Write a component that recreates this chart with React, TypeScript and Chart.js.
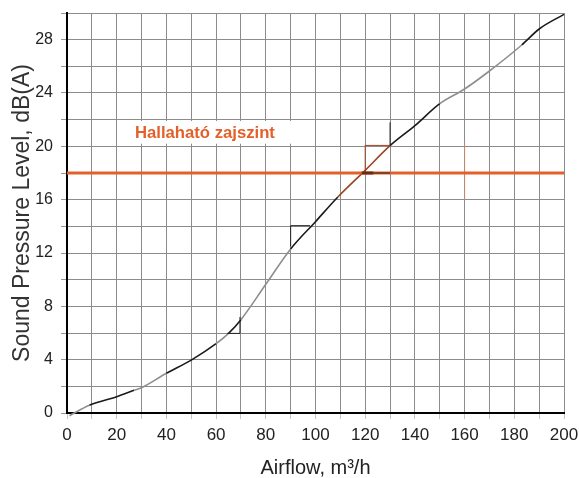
import { useEffect, useRef } from "react";
import { Chart, registerables } from "chart.js";

Chart.register(...registerables);

// ---- data ----
const airflow = [1, 9, 20, 27, 30, 40, 50, 60, 65, 70, 80, 90, 100, 109, 120, 130, 140, 150, 160, 170, 183, 190, 200];
const soundLevel = [-0.2, 0.58, 1.22, 1.7, 1.9, 2.98, 3.97, 5.2, 5.97, 7.0, 9.65, 12.3, 14.35, 16.2, 18.2, 20.05, 21.55, 23.2, 24.3, 25.65, 27.6, 28.8, 29.9];

const thresholdLevel = 18;
const thresholdLabel = "Hallaható zajszint";
const thresholdLabelPos = { x: 55.5, y: 21.0 };
const labelBox = { x0: 20.3, x1: 99.8, y0: 20.2, y1: 21.9 };

const xTickLabels = [0, 20, 40, 60, 80, 100, 120, 140, 160, 180, 200];
const yTickLabels = [0, 4, 8, 12, 16, 20, 24, 28];

// small marks visible on the scanned curve
const mark70 = [{ x: 64.4, y: 5.97 }, { x: 69.6, y: 5.97 }, { x: 69.6, y: 7.2 }];
const mark90 = [{ x: 90, y: 12.5 }, { x: 90, y: 14.05 }, { x: 97.8, y: 14.05 }];
const markBox120 = [{ x: 120, y: 18 }, { x: 120, y: 20.07 }, { x: 130, y: 20.07 }];
const mark130 = [{ x: 130, y: 20.07 }, { x: 130, y: 21.8 }];
const markBar118 = [{ x: 118.6, y: 18 }, { x: 123.3, y: 18 }];
const markBar124 = [{ x: 123.3, y: 18 }, { x: 130, y: 18 }];
const mark160 = [{ x: 160, y: 16 }, { x: 160, y: 20.3 }];

// style ranges for the curve
const greyRanges = [[1, 9], [27, 40], [60, 65], [70, 90], [150, 183]];
const brownRange = [109, 130];

const FONT = "'Liberation Sans', Arial, Helvetica, sans-serif";

const labelPlugin = {
  id: "thresholdLabel",
  beforeDatasetsDraw(chart: any) {
    const { ctx, scales } = chart;
    const x = scales.x;
    const y = scales.y;
    ctx.save();
    ctx.fillStyle = "#ffffff";
    const px0 = x.getPixelForValue(labelBox.x0);
    const px1 = x.getPixelForValue(labelBox.x1);
    const py0 = y.getPixelForValue(labelBox.y1);
    const py1 = y.getPixelForValue(labelBox.y0);
    ctx.fillRect(px0, py0, px1 - px0, py1 - py0);
    ctx.fillStyle = "#e4602a";
    ctx.font = `bold 16.7px ${FONT}`;
    ctx.textAlign = "center";
    ctx.textBaseline = "middle";
    ctx.fillText(thresholdLabel, x.getPixelForValue(thresholdLabelPos.x), y.getPixelForValue(thresholdLabelPos.y));
    ctx.restore();
  },
};

function markSet(data: any[], color: string, width: number, order: number) {
  return {
    data,
    borderColor: color,
    borderWidth: width,
    pointRadius: 0,
    fill: false,
    tension: 0,
    order,
  };
}

export default function App() {
  const ref = useRef<HTMLCanvasElement | null>(null);

  useEffect(() => {
    if (!ref.current) return;
    const curve = airflow.map((x, i) => ({ x, y: soundLevel[i] }));
    const colorFor = (x0: number) => {
      if (x0 >= brownRange[0] && x0 < brownRange[1]) return "#9c4322";
      for (const r of greyRanges) if (x0 >= r[0] && x0 < r[1]) return "#8e8e8e";
      return "#1a1a1a";
    };
    const chart = new Chart(ref.current, {
      type: "line",
      data: {
        datasets: [
          markSet(markBar118, "#6b2a14", 3, 0),
          markSet(markBar124, "#222222", 1, 1),
          markSet(mark130, "#222222", 1, 2),
          markSet(markBox120, "#9c4322", 1, 3),
          markSet(mark70, "#222222", 1, 4),
          markSet(mark90, "#222222", 1, 5),
          {
            data: [{ x: 0, y: thresholdLevel }, { x: 200, y: thresholdLevel }],
            borderColor: "#e4602a",
            borderWidth: 3,
            pointRadius: 0,
            fill: false,
            order: 6,
          },
          markSet(mark160, "#c9876c", 1, 7),
          {
            data: curve,
            borderColor: "#1a1a1a",
            borderWidth: 1.6,
            pointRadius: 0,
            fill: false,
            cubicInterpolationMode: "monotone",
            clip: 8,
            segment: {
              borderColor: (c: any) => colorFor(c.p0.parsed.x),
            },
            order: 8,
          } as any,
        ],
      },
      options: {
        animation: false,
        responsive: false,
        layout: { padding: { left: 0, top: 13, right: 15, bottom: 0 } },
        plugins: { legend: { display: false }, tooltip: { enabled: false } },
        scales: {
          x: {
            type: "linear",
            min: 0,
            max: 200,
            afterFit: (s: any) => {
              s.height = 65;
              s.paddingLeft = 0;
              s.paddingRight = 0;
            },
            ticks: {
              stepSize: 10,
              autoSkip: false,
              maxRotation: 0,
              padding: 6,
              color: "#222222",
              font: { family: FONT, size: 17 },
              callback: (v: any) => (xTickLabels.includes(Number(v)) ? String(v) : ""),
            },
            grid: { color: "#8c8c8c", lineWidth: 1, tickLength: 6, tickColor: "#c8c8c8" },
            border: { color: "#000000", width: 2 },
            title: {
              display: true,
              text: "Airflow, m³/h",
              color: "#222222",
              font: { family: FONT, size: 20, lineHeight: 1 },
              padding: { top: 0, bottom: 0 },
            },
          },
          y: {
            type: "linear",
            min: 0,
            max: 30,
            afterFit: (s: any) => {
              s.width = 67;
              s.paddingTop = 0;
              s.paddingBottom = 0;
            },
            ticks: {
              stepSize: 2,
              autoSkip: false,
              padding: 8,
              color: "#222222",
              font: { family: FONT, size: 16 },
              callback: (v: any) => (yTickLabels.includes(Number(v)) ? String(v) : ""),
            },
            grid: { color: "#8c8c8c", lineWidth: 1, tickLength: 6, tickColor: "#9a9a9a" },
            border: { color: "#000000", width: 2 },
            title: {
              display: true,
              text: "Sound Pressure Level, dB(A)",
              color: "#333333",
              font: { family: FONT, size: 23, lineHeight: 1.2 },
              padding: { top: 9, bottom: 0 },
            },
          },
        },
      },
      plugins: [labelPlugin],
    });
    return () => chart.destroy();
  }, []);

  return (
    <div style={{ position: "absolute", left: 0, top: 0, width: 579, height: 478, background: "#fff" }}>
      <canvas ref={ref} width={579} height={478} />
    </div>
  );
}
